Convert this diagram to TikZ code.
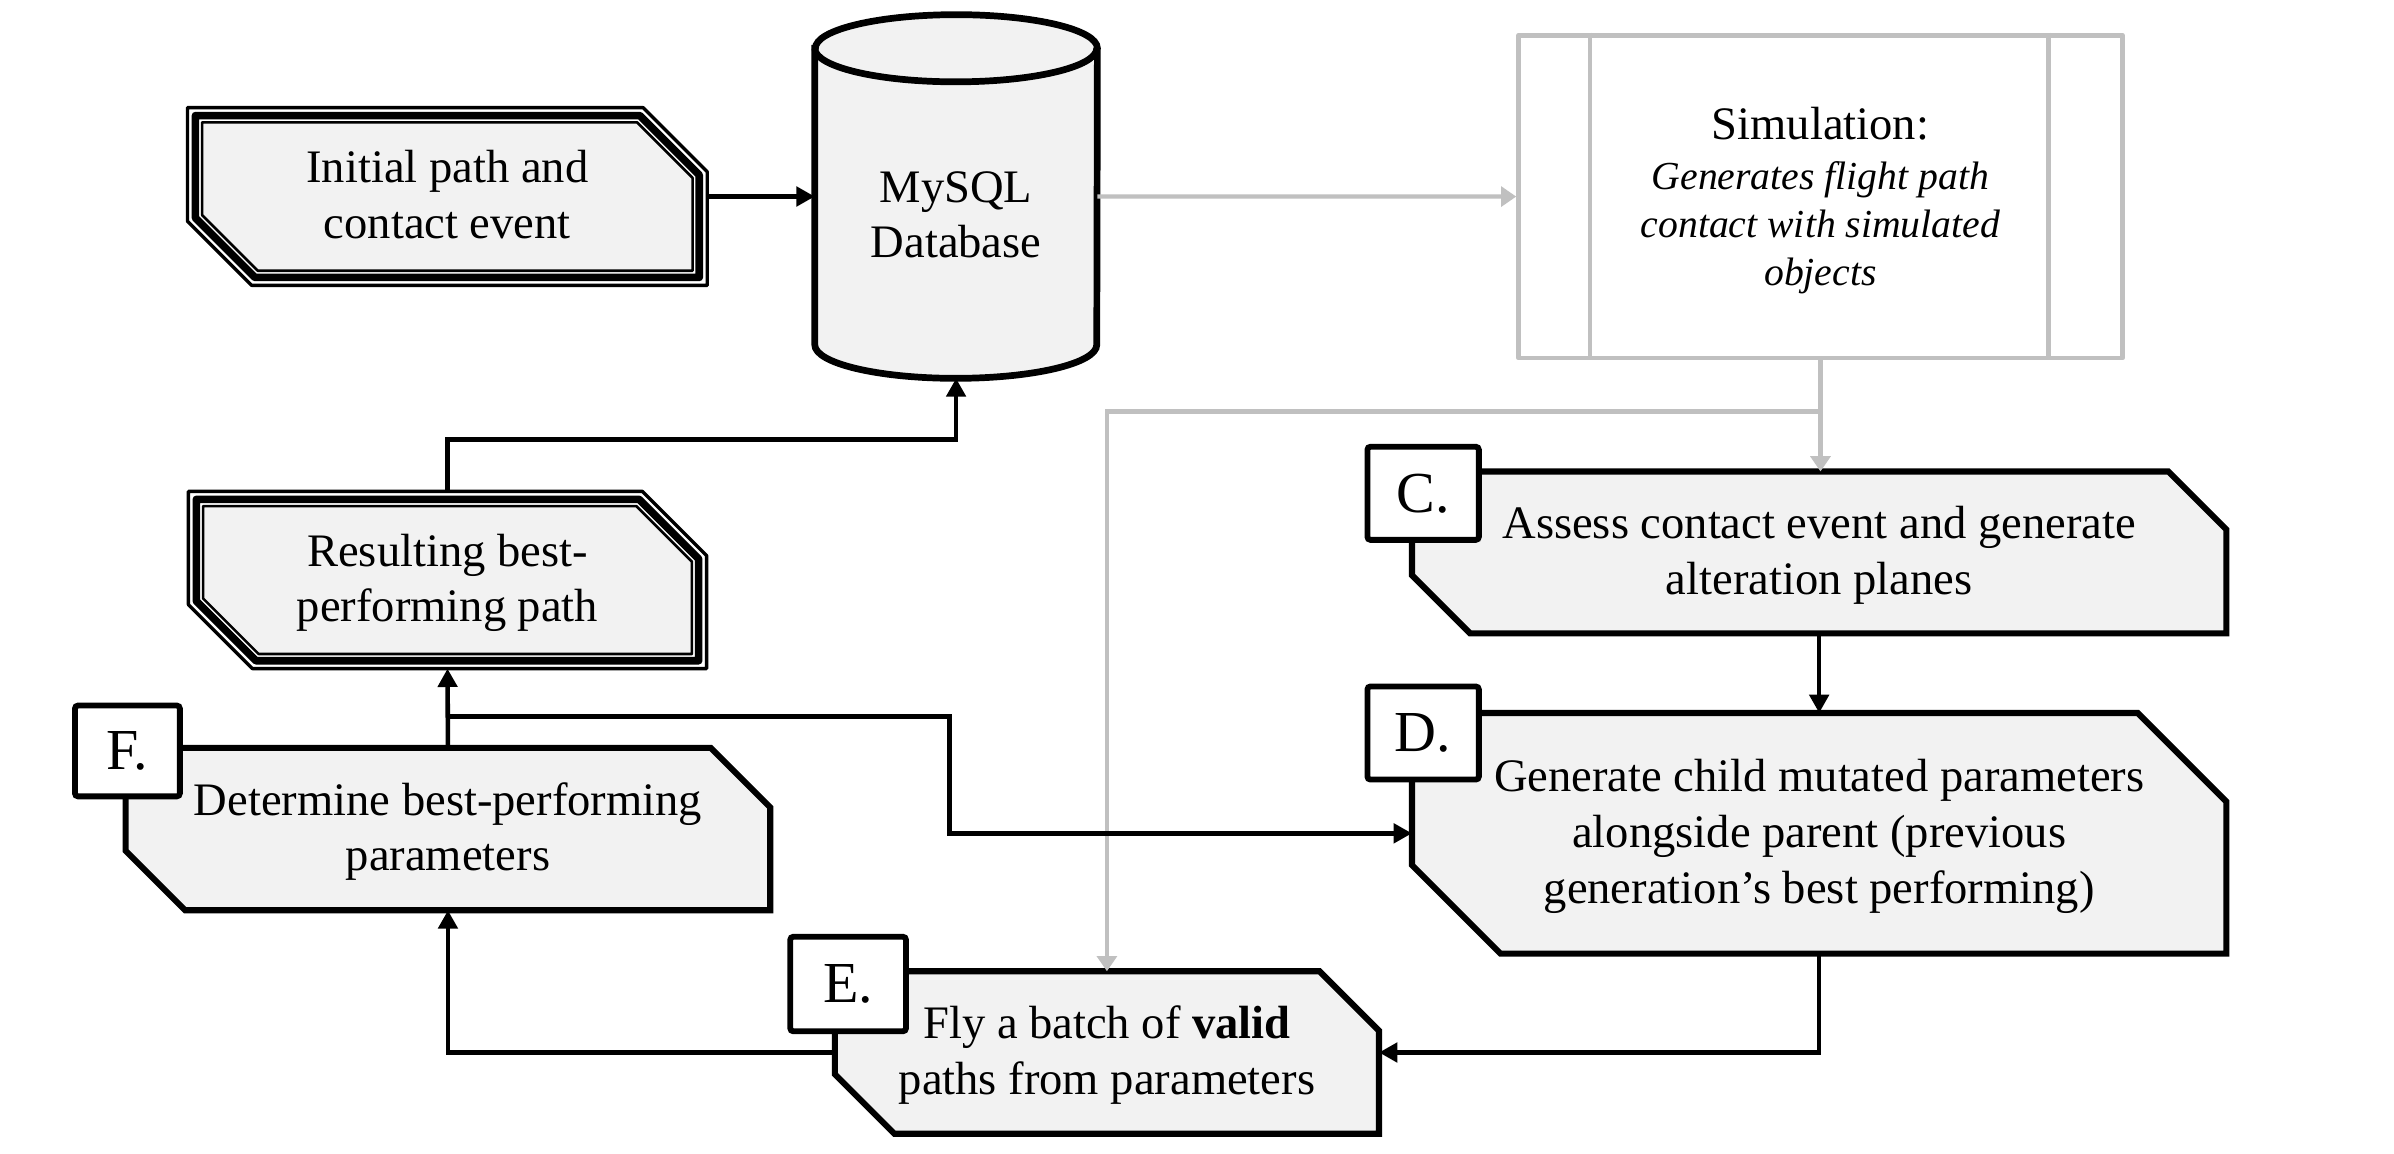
\documentclass[tikz,border=0pt]{standalone}
\usepackage{fontspec}
\setmainfont{Liberation Serif}
\usetikzlibrary{calc,arrows.meta,backgrounds}
\definecolor{boxfill}{HTML}{F2F2F2}
\definecolor{simgrey}{HTML}{C0C0C0}

\newcommand{\ts}{\rule[-7.6pt]{0pt}{33.6pt}}

\tikzset{
  proc/.style={inner sep=0pt, align=center, font=\fontsize{30.5}{36.5}\selectfont, execute at end node=\ts},
  procline/.style={draw=black, line width=4pt, fill=boxfill, line join=miter},
  tag/.style={draw=black, line width=3.8pt, fill=white, rounded corners=2pt, minimum width=73pt, minimum height=61pt, inner sep=0pt, anchor=north west, font=\fontsize{38}{40}\selectfont},
  simtext/.style={inner sep=0pt, align=center, font=\fontsize{26}{31.5}\selectfont\itshape},
  conn/.style={line width=3pt, -{Triangle[length=12pt,width=12.5pt]}},
  grey conn/.style={draw=simgrey, line width=2.8pt, -{Triangle[length=10pt,width=13pt]}},
}

% node, inset, chamfer
\newcommand{\chamfpath}[3]{($(#1.north west)+(#2,#2)$) -- ($(#1.north east)+(-#2-#3,#2)$) -- ($(#1.north east)+(-#2,#2+#3)$) -- ($(#1.south east)+(-#2,-#2)$) -- ($(#1.south west)+(#2+#3,-#2)$) -- ($(#1.south west)+(#2,-#2-#3)$) -- cycle}

\begin{document}
\begin{tikzpicture}[x=1pt,y=1pt,yscale=-1,xscale=1]
\useasboundingbox (0,0) rectangle (1568,755.2);

\node[proc, minimum width=340pt, minimum height=116pt] (init) at (293,128.7) {\ts Initial path and\\contact event};
\node[proc, minimum width=339pt, minimum height=115.7pt] (res) at (293.1,379.9) {\ts Resulting best-\\performing path};
\node[inner sep=0pt, minimum width=184.7pt, minimum height=237.8pt] (db) at (626.2,128.7) {};
\node[proc] (dbtext) at (626.2,141.5) {\ts MySQL\\Database};
\node[simtext, draw=simgrey, line width=3.2pt, line join=round, minimum width=395.3pt, minimum height=211.5pt] (sim) at (1192.35,128.75) {{\rule{0pt}{26.6pt}\fontsize{30.5}{31.5}\selectfont\upshape Simulation:}\\[1pt]Generates flight path\\contact with simulated\\objects};
\draw[simgrey, line width=3.2pt] ($(sim.north west)+(48.3,0)$) -- ($(sim.south west)+(48.3,0)$);
\draw[simgrey, line width=3.2pt] ($(sim.north east)+(-50,0)$) -- ($(sim.south east)+(-50,0)$);

\node[proc, minimum width=533pt, minimum height=105.6pt] (C) at (1191.5,361.8) {\ts Assess contact event and generate\\alteration planes};
\node[proc, minimum width=533pt, minimum height=157.2pt] (D) at (1191.5,545.8) {\ts Generate child mutated parameters\\alongside parent (previous\\generation’s best performing)};
\node[proc, minimum width=356pt, minimum height=106pt] (E) at (725,689.35) {\ts Fly a batch of \textbf{valid}\\paths from parameters};
\node[proc, minimum width=421.8pt, minimum height=106pt] (F) at (293.4,543) {\ts Determine best-performing\\parameters};

\node[tag] (Ctag) at ($(C.north west)+(-31.1,-18.1)$) {C.};
\node[tag] (Dtag) at ($(D.north west)+(-31.1,-19.3)$) {D.};
\node[tag, minimum width=75.8pt, minimum height=61.9pt] (Etag) at ($(E.north west)+(-31.1,-24.5)$) {E.};
\node[tag, minimum width=68.7pt, minimum height=59.5pt] (Ftag) at ($(F.north west)+(-35.1,-29.6)$) {F.};

\coordinate (split) at ($(sim.south)+(0,33.5)$);
\coordinate (fork) at ($(F.north)+(0,-20.6)$);

\draw[grey conn] (db.east) -- (sim.west);
\draw[grey conn] (sim.south) -- (sim.south |- C.north);
\draw[grey conn] (split) -| (E.north);

\draw[conn] (init.east) -- (db.west);
\draw[conn] (C.south) -- (D.north);
\draw[conn] (D.south) |- (E.east);
\draw[conn] (E.west) -| (F.south);
\draw[conn] (F.north) -- (res.south);
\draw[conn] (fork) -- ++(328.4,0) |- (D.west);
\draw[conn] (res.north) -- ++(0,-34) -| (db.south);

\begin{scope}[on background layer]
\fill[white] (0,0) rectangle (1568,755.2);
\foreach \n/\c in {C/38,D/58,E/39,F/39}
  \draw[procline] \chamfpath{\n}{0}{\c};
\foreach \n in {init,res} {
  \draw[line width=2.2pt, line join=round] \chamfpath{\n}{0}{42};
  \draw[line width=5pt, line join=round] \chamfpath{\n}{5.2}{39};
  \draw[line width=1.7pt, line join=round, fill=boxfill] \chamfpath{\n}{9.6}{36.4};
}
\draw[line width=4.4pt, fill=boxfill] ($(db.north west)+(0,22)$) -- ($(db.south west)+(0,-22)$) arc[start angle=180, end angle=0, x radius=92.35, y radius=22] -- ($(db.north east)+(0,22)$) arc[start angle=0, end angle=-180, x radius=92.35, y radius=22] -- cycle;
\draw[line width=4.4pt] ($(db.north west)+(0,22)$) arc[start angle=180, end angle=0, x radius=92.35, y radius=22];
\end{scope}
\end{tikzpicture}
\end{document}
